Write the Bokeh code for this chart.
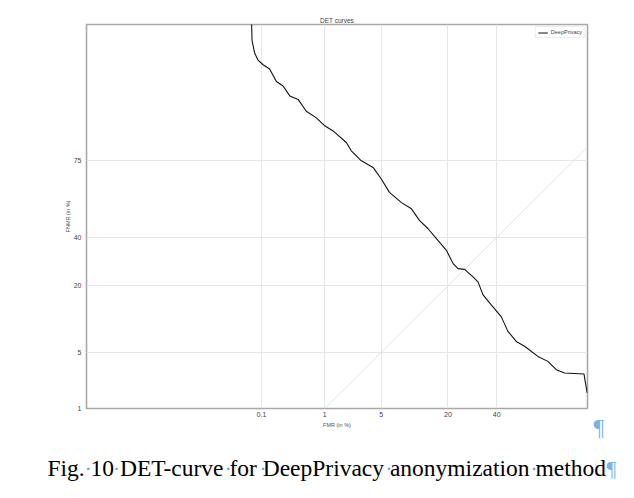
from statistics import NormalDist

from bokeh.plotting import figure
from bokeh.layouts import column
from bokeh.models import FixedTicker, Label, Range1d
from bokeh.embed import file_html
from bokeh.resources import INLINE

# DET curve (both in %)
fmr = [0.062, 0.068, 0.076, 0.087, 0.107, 0.139, 0.181, 0.233, 0.30, 0.405,
       0.54, 0.76, 1.0, 1.3, 1.94, 2.24, 2.97, 4.06, 5.0, 6.1,
       8.0, 10.0, 11.8, 14.0, 16.8, 19.5, 21.8, 23.6, 26.1, 29.5,
       31.6, 33.8, 37.5, 42.2, 45.3, 49.3, 53.3, 59.6, 64.2, 67.9,
       71.4, 78.8, 79.2, 79.9]
fnmr = [99.9, 98.35, 97.6, 97.1, 96.7, 96.3, 94.9, 94.3, 92.8, 92.2,
        89.9, 88.4, 86.4, 85.0, 81.5, 78.7, 75.0, 72.4, 67.5, 61.5,
        56.8, 53.7, 48.1, 44.1, 38.6, 34.1, 28.4, 26.4, 26.1, 23.2,
        21.4, 17.1, 14.2, 11.2, 8.2, 6.5, 5.8, 4.5, 3.96, 3.17,
        2.9, 2.82, 2.3, 1.63]
diag = [1, 80]  # chance line y = x

x_ticks = [0.1, 1, 5, 20, 40]
y_ticks = [1, 5, 20, 40, 75]
x_lim = [1e-5, 80]
y_lim = [1, 99]

caption = "Fig. 10 DET-curve for DeepPrivacy anonymization method"

nd = NormalDist()


def probit(vals):
    # normal deviate scale used by DET plots
    return [nd.inv_cdf(v / 100.0) for v in vals]


xr = probit(x_lim)
yr = probit(y_lim)

p = figure(width=618, height=440, title="DET curves",
           x_range=Range1d(xr[0], xr[1]), y_range=Range1d(yr[0], yr[1]),
           min_border_left=86, min_border_right=31, min_border_top=24, min_border_bottom=32,
           output_backend="svg", toolbar_location=None)
p.frame_align = False
p.outline_line_color = "#a8a8a8"
p.outline_line_width = 1.6

p.title.align = "center"
p.title.text_font = "Liberation Sans"
p.title.text_font_size = "6.5px"
p.title.text_font_style = "normal"
p.title.text_color = "#444444"
p.title.standoff = 2

# axes with probit ticks
xt = probit(x_ticks)
yt = probit(y_ticks)
p.xaxis.ticker = FixedTicker(ticks=xt)
p.yaxis.ticker = FixedTicker(ticks=yt)
p.xaxis.major_label_overrides = {t: str(l) for t, l in zip(xt, x_ticks)}
p.yaxis.major_label_overrides = {t: str(l) for t, l in zip(yt, y_ticks)}
p.xaxis.axis_label = "FMR (in %)"
p.yaxis.axis_label = "FNMR (in %)"
for ax in (p.xaxis, p.yaxis):
    ax.axis_line_color = None
    ax.major_tick_line_color = None
    ax.minor_tick_line_color = None
    ax.major_tick_out = 0
    ax.major_label_text_font = "Liberation Sans"
    ax.major_label_text_font_size = "7px"
    ax.major_label_text_color = "#444444"
    ax.axis_label_text_font = "Liberation Sans"
    ax.axis_label_text_font_size = "5.5px"
    ax.axis_label_text_font_style = "normal"
    ax.axis_label_text_color = "#555555"
p.xaxis.major_label_standoff = 3
p.yaxis.major_label_standoff = 5
p.xaxis.axis_label_standoff = 2
p.yaxis.axis_label_standoff = 0

p.xgrid.grid_line_color = "#e6e6e6"
p.ygrid.grid_line_color = "#e6e6e6"
p.xgrid.grid_line_width = 1
p.ygrid.grid_line_width = 1

p.line(probit(diag), probit(diag), color="#dcdcdc", line_width=0.8)
p.line(probit(fmr), probit(fnmr), color="#111111", line_width=1.1, legend_label="DeepPrivacy")

p.legend.location = "top_right"
p.legend.label_text_font = "Liberation Sans"
p.legend.label_text_font_size = "5.5px"
p.legend.label_text_color = "#444444"
p.legend.glyph_width = 10
p.legend.glyph_height = 5
p.legend.label_height = 5
p.legend.label_standoff = 3
p.legend.padding = 2
p.legend.margin = 2
p.legend.spacing = 0
p.legend.border_line_color = "#dddddd"
p.legend.border_line_width = 0.8

# caption strip, pulled up over the bottom border of the chart (transparent)
cap = figure(width=618, height=90, x_range=Range1d(0, 618), y_range=Range1d(90, 0),
             x_axis_type=None, y_axis_type=None, min_border=0,
             min_border_left=0, min_border_right=0, min_border_top=0, min_border_bottom=0,
             output_backend="svg", toolbar_location=None)
cap.frame_align = False
cap.margin = (-32, 0, 0, 0)
cap.outline_line_color = None
cap.background_fill_color = None
cap.border_fill_color = None
cap.xgrid.visible = False
cap.ygrid.visible = False

base = 59.7
cap.add_layout(Label(x=47, y=base, text=caption, text_font="Liberation Serif",
                     text_font_size="23.5px", text_color="black", text_baseline="alphabetic"))
for dx in [87.7, 116, 227.7, 262.3, 388.3, 533.3]:
    cap.add_layout(Label(x=dx, y=base, text="\u00b7", text_font="Liberation Serif",
                         text_font_size="22px", text_color="#5aa6ef", text_align="center",
                         text_baseline="alphabetic"))
cap.add_layout(Label(x=606, y=base, text="\u00b6", text_font="Liberation Serif",
                     text_font_size="22px", text_color="#7ab3e8", text_baseline="alphabetic"))
cap.add_layout(Label(x=593, y=18, text="\u00b6", text_font="Liberation Serif",
                     text_font_size="24px", text_color="#7ab3e8", text_baseline="alphabetic"))

open("out.html", "w").write(file_html(column(p, cap), INLINE))
